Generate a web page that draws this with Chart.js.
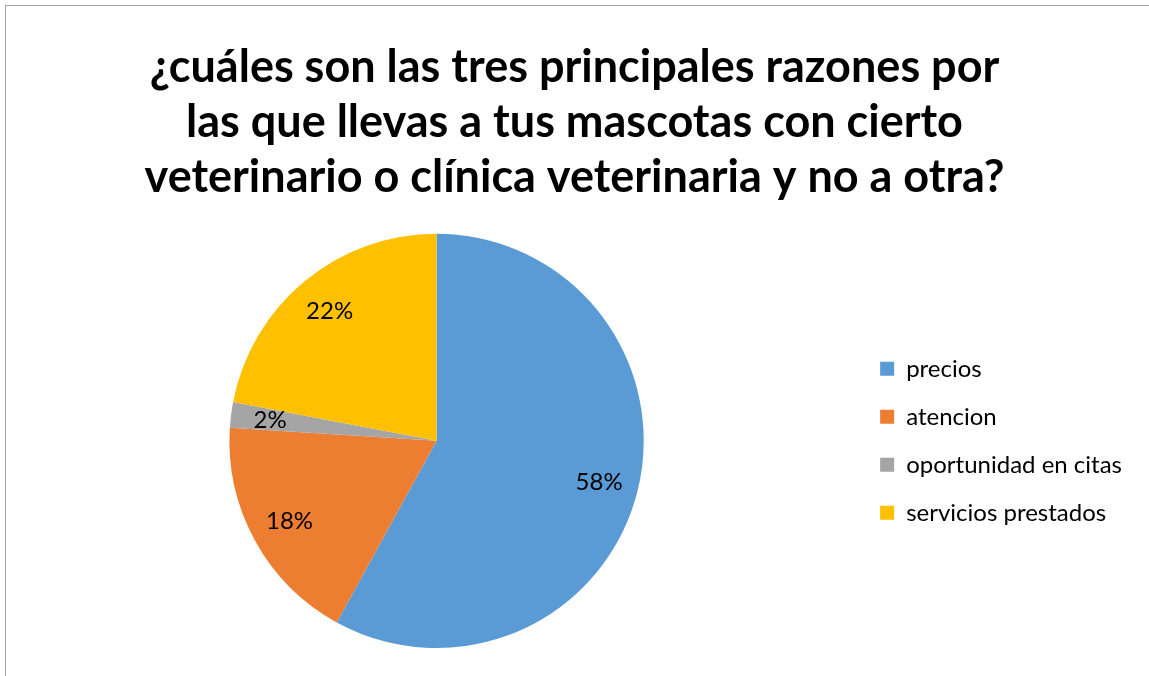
<!DOCTYPE html>
<html>
<head>
<meta charset="utf-8">
<script src="https://cdn.jsdelivr.net/npm/chart.js@4"></script>
<style>
  html, body { margin: 0; padding: 0; background: #fff; overflow: hidden; }
  #frame { position: absolute; left: 5px; top: 5px; width: 1200px; height: 700px; border: 1px solid #a0a0a0; box-sizing: border-box; }
  #wrap { position: absolute; left: 0; top: 0; width: 1149px; height: 676px; }
</style>
</head>
<body>
<div id="frame"></div>
<div id="wrap"><canvas id="c" width="1149" height="676"></canvas></div>
<script>
//---------------------------------------
// Data
//---------------------------------------
const categories = ['precios', 'atencion', 'oportunidad en citas', 'servicios prestados'];
const values = [58, 18, 2, 22];
const colors = ['#5B9BD5', '#ED7D31', '#A5A5A5', '#FFC000'];
const title_lines = [
  '¿cuáles son las tres principales razones por',
  'las que llevas a tus mascotas con cierto',
  'veterinario o clínica veterinaria y no a otra?'
];

//---------------------------------------
// Plugin
//---------------------------------------
// porcentaje dentro de cada sector
const pct_labels = {
  id: 'pct_labels',
  afterDatasetsDraw(chart) {
    const ctx = chart.ctx;
    const meta = chart.getDatasetMeta(0);
    const total = values.reduce((a, b) => a + b, 0);
    ctx.save();
    ctx.font = '24px Lato';
    ctx.fillStyle = '#000';
    ctx.textAlign = 'center';
    ctx.textBaseline = 'middle';
    meta.data.forEach((arc, i) => {
      const p = arc.getProps(['x', 'y', 'startAngle', 'endAngle', 'outerRadius'], true);
      const mid = (p.startAngle + p.endAngle) / 2;
      const r = p.outerRadius * 0.81;
      const txt = Math.round(values[i] / total * 100) + '%';
      ctx.fillText(txt, p.x + Math.cos(mid) * r, p.y + Math.sin(mid) * r);
    });
    ctx.restore();
  }
};

//---------------------------------------
// Chart
//---------------------------------------
new Chart(document.getElementById('c'), {
  type: 'pie',
  data: {
    labels: categories,
    datasets: [{
      data: values,
      backgroundColor: colors,
      borderWidth: 0
    }]
  },
  options: {
    responsive: false,
    animation: false,
    layout: { padding: { left: 17, right: 17, top: 40, bottom: 28 } },
    plugins: {
      title: {
        display: true,
        text: title_lines,
        color: '#000',
        font: { family: 'Lato', size: 45, weight: 'bold', lineHeight: 1.22 },
        padding: { top: 0, bottom: 29 }
      },
      legend: {
        display: true,
        position: 'right',
        fullSize: false,
        labels: {
          color: '#000',
          font: { family: 'Lato', size: 24 },
          boxWidth: 14,
          boxHeight: 14,
          padding: 24
        }
      },
      tooltip: { enabled: false }
    }
  },
  plugins: [pct_labels]
});
</script>
</body>
</html>
